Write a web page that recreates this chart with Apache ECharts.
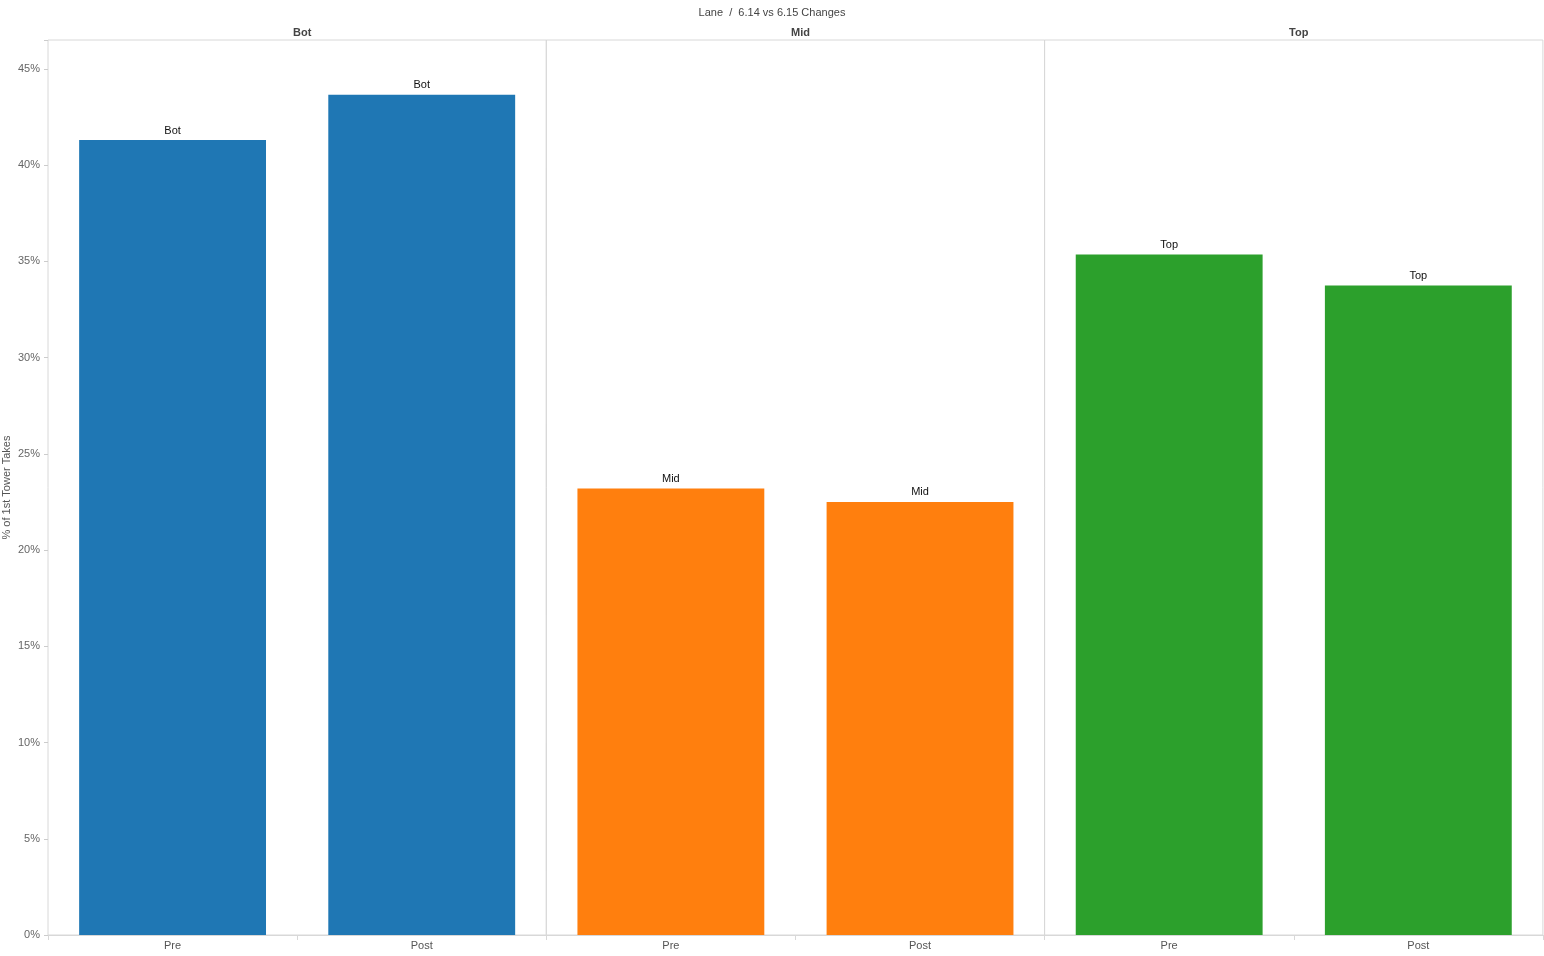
<!DOCTYPE html>
<html><head><meta charset="utf-8">
<script src="https://cdn.jsdelivr.net/npm/echarts@6/dist/echarts.min.js"></script>
<style>html,body{margin:0;padding:0;background:#fff}#c{width:1544px;height:956px}</style>
</head><body><div id="c"></div>
<script>
const lanes = ['Bot','Mid','Top'];
const periods = ['Pre','Post'];
const botValues = [41.3, 43.65];
const midValues = [23.2, 22.5];
const topValues = [35.35, 33.75];
const laneColors = ['#1f77b4','#ff7f0e','#2ca02c'];
const values = [botValues, midValues, topValues];

const left0 = 48, panelW = 498.3, gridTop = 40, gridBottom = 21;
const grids = [], xAxes = [], yAxes = [], series = [], titles = [];
titles.push({text:'Lane  /  6.14 vs 6.15 Changes', left:'center', top:2,
  textStyle:{fontSize:11, fontWeight:'normal', color:'#444', fontFamily:'Arial'}});
lanes.forEach((lane,i)=>{
  const l = left0 + i*panelW;
  grids.push({left:l, width:panelW, top:gridTop, bottom:gridBottom, show:true, borderColor:'#d8d8d8', borderWidth:1});
  titles.push({text:lane, left:l+panelW/2, top:22, textAlign:'center',
    textStyle:{fontSize:11, fontWeight:'bold', color:'#444', fontFamily:'Arial'}});
  xAxes.push({type:'category', gridIndex:i, data:periods,
    axisLine:{lineStyle:{color:'#d8d8d8'}}, axisTick:{show:true, lineStyle:{color:'#d8d8d8'}},
    axisLabel:{color:'#555', fontSize:11, margin:5, fontFamily:'Arial'}});
  yAxes.push({type:'value', gridIndex:i, min:0, max:46.5, interval:5,
    splitLine:{show:false}, axisLine:{show:false}, axisTick:{show:i===0, length:4, lineStyle:{color:'#ccc'}},
    axisLabel:{show:i===0, color:'#666', fontSize:11, fontFamily:'Arial',
      formatter:v=> (v%5===0 ? v+'%' : '')},
    name: i===0 ? '% of 1st Tower Takes' : '', nameLocation:'middle', nameGap:36,
    nameTextStyle:{color:'#555', fontSize:11, fontFamily:'Arial'}});
  series.push({type:'bar', xAxisIndex:i, yAxisIndex:i, data:values[i],
    barCategoryGap:'25%', itemStyle:{color:laneColors[i]},
    label:{show:true, position:'top', formatter:lane, color:'#111', fontSize:11, fontFamily:'Arial', distance:4}});
});
const chart = echarts.init(document.getElementById('c'));
chart.setOption({animation:false, title:titles, grid:grids, xAxis:xAxes, yAxis:yAxes, series:series});
</script></body></html>
